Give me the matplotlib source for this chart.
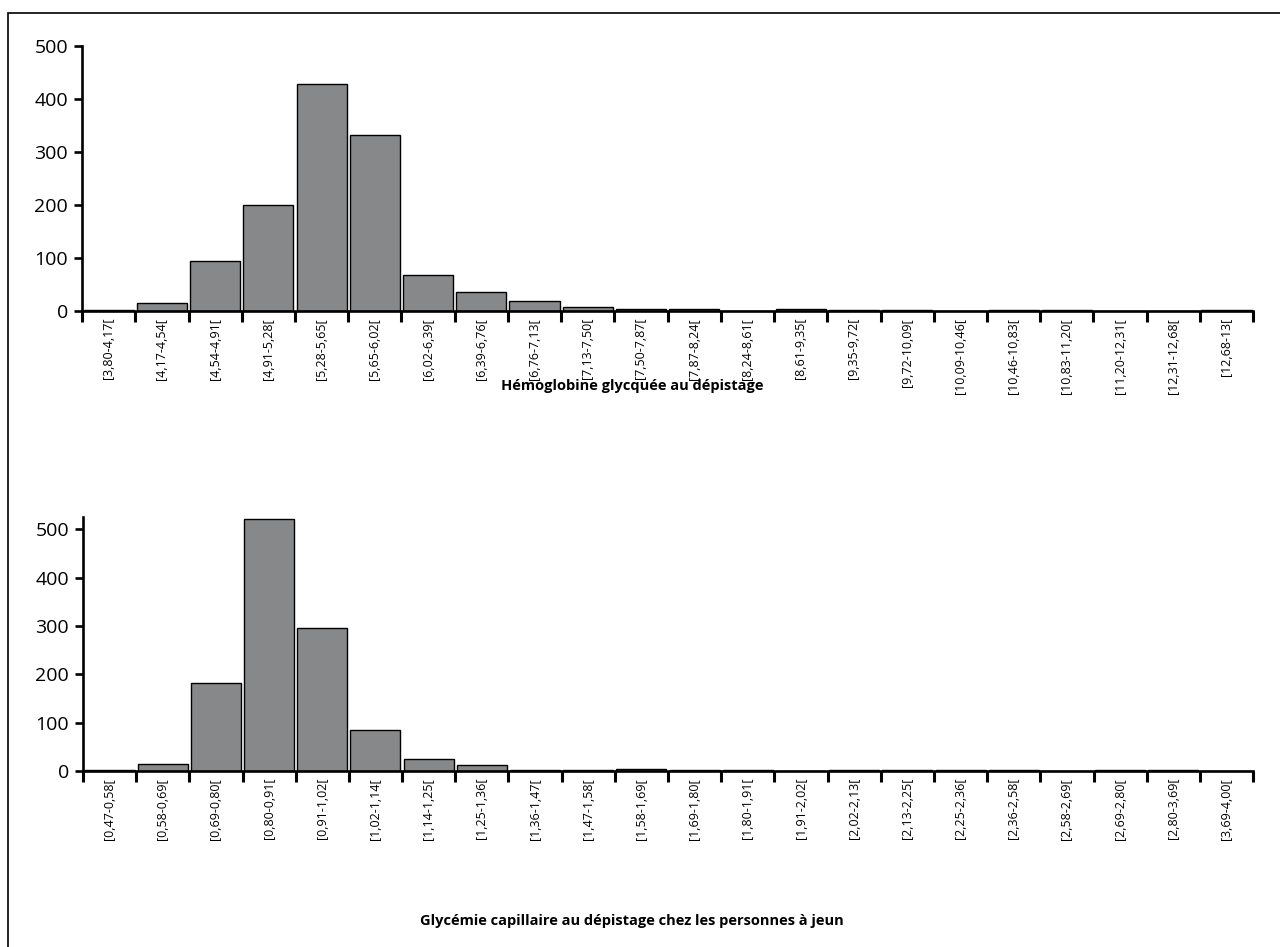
import matplotlib
matplotlib.use("Agg")
import matplotlib.pyplot as plt
from matplotlib.patches import Rectangle
import numpy as np

plt.rcParams["font.family"] = ["Liberation Sans Narrow", "Open Sans", "DejaVu Sans"]

hba1c_bins = ["[3,80-4,17[", "[4,17-4,54[", "[4,54-4,91[", "[4,91-5,28[", "[5,28-5,65[",
              "[5,65-6,02[", "[6,02-6,39[", "[6,39-6,76[", "[6,76-7,13[", "[7,13-7,50[",
              "[7,50-7,87[", "[7,87-8,24[", "[8,24-8,61[", "[8,61-9,35[", "[9,35-9,72[",
              "[9,72-10,09[", "[10,09-10,46[", "[10,46-10,83[", "[10,83-11,20[",
              "[11,20-12,31[", "[12,31-12,68[", "[12,68-13["]
hba1c_counts = [2, 15, 95, 200, 428, 332, 68, 35, 19, 7, 4, 4, 0, 3, 1, 1, 0, 2, 2, 0, 0, 1]

glyc_bins = ["[0,47-0,58[", "[0,58-0,69[", "[0,69-0,80[", "[0,80-0,91[", "[0,91-1,02[",
             "[1,02-1,14[", "[1,14-1,25[", "[1,25-1,36[", "[1,36-1,47[", "[1,47-1,58[",
             "[1,58-1,69[", "[1,69-1,80[", "[1,80-1,91[", "[1,91-2,02[", "[2,02-2,13[",
             "[2,13-2,25[", "[2,25-2,36[", "[2,36-2,58[", "[2,58-2,69[", "[2,69-2,80[",
             "[2,80-3,69[", "[3,69-4,00["]
glyc_counts = [3, 15, 181, 522, 296, 85, 25, 12, 2, 2, 4, 1, 1, 0, 2, 2, 1, 2, 0, 1, 1, 0]

hba1c_title = "Hémoglobine glycquée au dépistage"
glyc_title = "Glycémie capillaire au dépistage chez les personnes à jeun"


def draw_hist(ax, labels, counts, ymax):
    x = np.arange(len(labels))
    ax.bar(x, counts, width=0.94, color="#87888a", edgecolor="black", linewidth=1.0, zorder=2)
    ax.set_xlim(-0.5, len(labels) - 0.5)
    ax.set_ylim(0, ymax)
    ax.set_yticks(range(0, 501, 100))
    for side in ("top", "right"):
        ax.spines[side].set_visible(False)
    ax.spines["left"].set_linewidth(1.9)
    ax.spines["bottom"].set_linewidth(1.9)
    ax.spines["bottom"].set_zorder(3)
    ax.tick_params(axis="y", length=6, width=1.9, labelsize=14, pad=4)
    for t in ax.get_yticklabels():
        t.set_family(["Open Sans", "DejaVu Sans"])
    ax.set_xticks(x)
    ax.set_xticklabels(labels, rotation=90, fontsize=9)
    ax.tick_params(axis="x", which="major", length=0, pad=5)
    ax.set_xticks(np.arange(len(labels) + 1) - 0.5, minor=True)
    ax.tick_params(axis="x", which="minor", length=8, width=2.2)


fig = plt.figure(figsize=(12.8, 9.47), dpi=100)
fig.patches.append(Rectangle((8 / 1280, -0.1), 1.2, 1 - 13 / 947 + 0.1, transform=fig.transFigure,
                             fill=False, edgecolor="black", linewidth=1.2))

ax1 = fig.add_axes([0.0641, 0.6716, 0.9149, 0.2798])
draw_hist(ax1, hba1c_bins, hba1c_counts, 500)

ax2 = fig.add_axes([0.0648, 0.1859, 0.9142, 0.2681])
draw_hist(ax2, glyc_bins, glyc_counts, 525)

fig.text(0.494, 1 - 386 / 947, hba1c_title, ha="center", va="center", fontsize=10.5,
         fontweight="bold", family=["Open Sans", "DejaVu Sans"])
fig.text(0.494, 1 - 921 / 947, glyc_title, ha="center", va="center", fontsize=10.5,
         fontweight="bold", family=["Open Sans", "DejaVu Sans"])

fig.savefig("out.png", dpi=100)
